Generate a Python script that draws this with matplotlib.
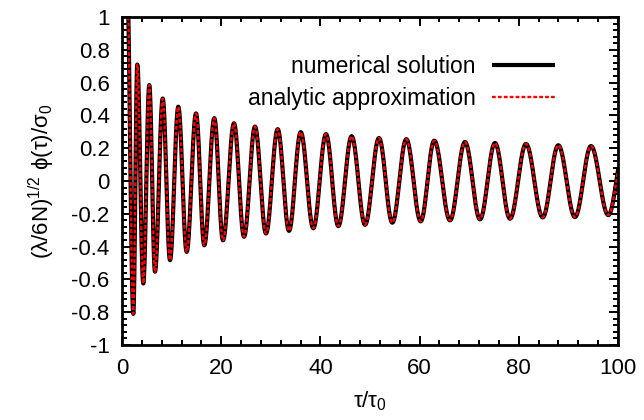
import numpy as np
import matplotlib
matplotlib.use("Agg")
import matplotlib.pyplot as plt
from matplotlib.ticker import MultipleLocator

# Extrema (turning points) of the oscillation
extrema_tau = [1.0, 2.28, 3.08, 4.29, 5.5, 6.65, 8.21, 9.68, 11.35, 13.04, 14.92,
               16.59, 18.61, 20.36, 22.58, 24.6, 26.81, 29.03, 31.39, 33.67, 36.03,
               38.57, 41.13, 43.61, 46.3, 49.0, 51.81, 54.5, 57.32, 60.22, 62.96,
               66.13, 69.15, 72.18, 75.2, 78.23, 81.45, 84.82, 87.96, 91.33, 94.56,
               98.04, 101.3]
extrema_val = [1.25, -0.81, 0.71, -0.625, 0.585, -0.553, 0.503, -0.483, 0.453, -0.432,
               0.412, -0.392, 0.383, -0.362, 0.352, -0.34, 0.332, -0.32, 0.316, -0.304,
               0.298, -0.288, 0.286, -0.275, 0.273, -0.267, 0.262, -0.254, 0.255, -0.246,
               0.246, -0.24, 0.238, -0.234, 0.232, -0.23, 0.226, -0.222, 0.218, -0.22,
               0.213, -0.208, 0.21]

series_labels = ["numerical solution", "analytic approximation"]
x_ticks = [0, 20, 40, 60, 80, 100]
y_ticks = [-1, -0.8, -0.6, -0.4, -0.2, 0, 0.2, 0.4, 0.6, 0.8, 1]


def smooth_through_extrema(ts, vs, n=40):
    """Draw a smooth curve passing through turning points (half-cosine shape)."""
    xs, ys = [], []
    for i in range(len(ts) - 1):
        s = np.linspace(0, 1, n, endpoint=False)
        xs.append(ts[i] + (ts[i + 1] - ts[i]) * s)
        ys.append(vs[i] + (vs[i + 1] - vs[i]) * (1 - np.cos(np.pi * s)) / 2)
    xs.append([ts[-1]])
    ys.append([vs[-1]])
    return np.concatenate(xs), np.concatenate(ys)


plt.rcParams['font.family'] = ['Liberation Sans', 'DejaVu Sans']
plt.rcParams['mathtext.fontset'] = 'custom'
plt.rcParams['mathtext.rm'] = 'Liberation Sans'
plt.rcParams['mathtext.it'] = 'Liberation Sans'
plt.rcParams['mathtext.bf'] = 'Liberation Sans:bold'

fig = plt.figure(figsize=(6.44, 4.2), dpi=100)
ax = fig.add_axes([122 / 644, 1 - 345 / 420, 496 / 644, 328 / 420])

tx, ty = smooth_through_extrema(extrema_tau, extrema_val)
ax.plot(tx, ty, color='black', lw=3.0, solid_capstyle='butt', label=series_labels[0])
ax.plot(tx, ty, color='#ff0000', lw=1.7, dashes=(1.6, 0.9), label=series_labels[1])

ax.set_xlim(0, 100)
ax.set_ylim(-1, 1)
ax.set_xticks(x_ticks)
ax.set_yticks(y_ticks)
ax.set_xticklabels([str(v) for v in x_ticks])
ax.set_yticklabels(['%g' % v for v in y_ticks])
ax.xaxis.set_minor_locator(MultipleLocator(4))
ax.yaxis.set_minor_locator(MultipleLocator(0.04))

fs = 16
ax.tick_params(which='both', direction='in', top=True, right=True, width=1.4)
ax.tick_params(which='major', length=6.5, labelsize=fs, pad=9)
ax.tick_params(which='minor', length=3.5)
for sp in ax.spines.values():
    sp.set_linewidth(2.0)

ax.set_xlabel(r'$\tau/\tau_0$', fontsize=fs, labelpad=8)
ax.set_ylabel(r'$(\lambda/6N)^{1/2}\ \phi(\tau)/\sigma_0$', fontsize=fs, labelpad=10)

leg = ax.legend(loc='upper right', bbox_to_anchor=(0.873, 0.884), frameon=False,
                markerfirst=False, fontsize=16.5, handlelength=2.75, handletextpad=0.7,
                labelspacing=0.4, borderaxespad=0, borderpad=0)

fig.savefig('out.png', dpi=100)
